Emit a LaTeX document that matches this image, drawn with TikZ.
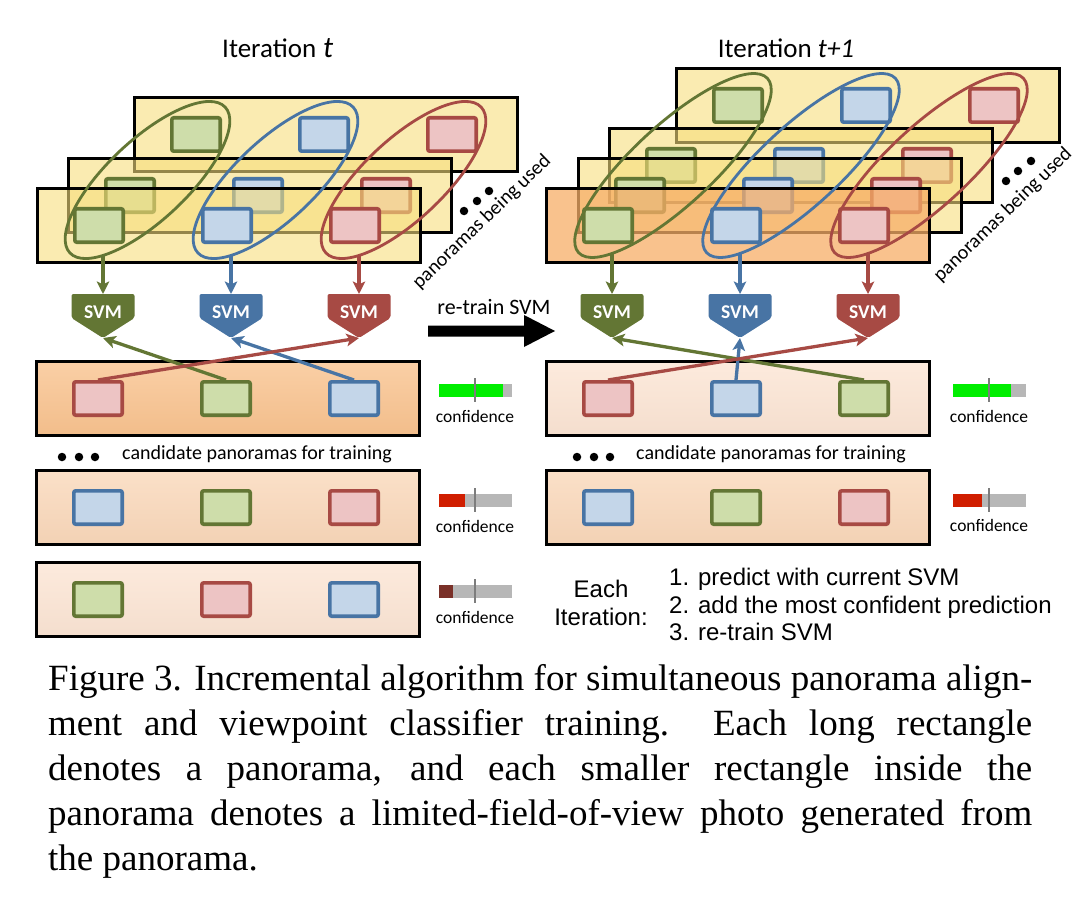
\documentclass[tikz,border=0pt]{standalone}
\usepackage{fontspec}
\setmainfont{Carlito}
\newfontfamily\capfont{Liberation Serif}
\newfontfamily\arialfont{Liberation Sans}
\usetikzlibrary{arrows.meta,shapes.geometric}

\definecolor{gB}{RGB}{99,118,52}
\definecolor{gF}{RGB}{206,221,170}
\definecolor{bB}{RGB}{72,116,164}
\definecolor{bF}{RGB}{196,214,233}
\definecolor{rB}{RGB}{167,74,68}
\definecolor{rF}{RGB}{237,196,196}
\definecolor{panY}{RGB}{248,223,125}
\definecolor{panO}{RGB}{247,174,104}
\definecolor{candA}{RGB}{249,195,143}
\definecolor{candB}{RGB}{250,216,186}
\definecolor{candC}{RGB}{252,229,212}
\definecolor{confG}{RGB}{0,238,0}
\definecolor{confR}{RGB}{208,30,0}
\definecolor{confD}{RGB}{122,48,40}
\definecolor{confBg}{RGB}{183,183,183}
\definecolor{tickC}{RGB}{125,125,125}

\newcommand\pano[7]{%
  \node[#4] (#1) at (#2+1.5,#3+1.5) {};
  \node[photo=#5] (#1a) at (#2+63,#3+38.5) {};
  \node[photo=#6] (#1b) at (#2+191,#3+38.5) {};
  \node[photo=#7] (#1c) at (#2+319,#3+38.5) {};
}
\newcommand\svmnode[3]{%
  \fill[#3B, rounded corners=2pt] (#2-31.5,294) -- (#2+31.5,294) -- (#2+31.5,318) -- (#2,338) -- (#2-31.5,318) -- cycle;
  \node[svmtext] (#1) at (#2,318) {SVM};
  \coordinate (#1top) at (#2,294);
  \coordinate (#1tip) at (#2,338);
}
\newcommand\confbar[4]{%
  \fill[confBg] (#1,#2) rectangle (#1+73,#2+13);
  \fill[#3] (#1,#2) rectangle (#4,#2+13);
  \draw[tickC, line width=1.5pt] (#1+36,#2-6) -- (#1+36,#2+18);
}

\begin{document}
\begin{tikzpicture}[x=1pt,y=-1pt,
  panel/.style={rectangle, draw=black, line width=3.2pt, minimum width=383pt, minimum height=74pt, inner sep=0pt, outer sep=0pt, anchor=north west},
  ypanel/.style={panel, fill=panY, fill opacity=0.6},
  opanel/.style={panel, fill=panO, fill opacity=0.75},
  cand/.style={panel, top color=#1!80!white, bottom color=#1!97!black},
  photo/.style={rectangle, draw=#1B, fill=#1F, line width=3.6pt, minimum width=48.4pt, minimum height=33.4pt, inner sep=0pt, rounded corners=2pt},
  ellbase/.style={ellipse, draw=#1B, line width=2.8pt, inner sep=0pt},
  lell/.style={ellbase=#1, minimum width=213pt, minimum height=80pt, rotate=43.2},
  rell/.style={ellbase=#1, minimum width=257pt, minimum height=80pt, rotate=42.7},
  conn/.style={draw=#1B, line width=3.3pt, -{Stealth[length=12.5pt,width=12.5pt,inset=3pt]}},
  svmtext/.style={text=white, font=\bfseries\fontsize{19.5}{19.5}\selectfont, anchor=base, inner sep=0pt},
  ttl/.style={anchor=base, inner sep=0pt, font=\fontsize{27}{27}\selectfont},
  pbu/.style={rotate=44, inner sep=0pt, font=\fontsize{20}{20}\selectfont},
  retrain/.style={anchor=base, inner sep=0pt, font=\fontsize{22}{22}\selectfont},
  conflbl/.style={anchor=base, inner sep=0pt, font=\fontsize{17.5}{17.5}\selectfont},
  candtxt/.style={anchor=base west, inner sep=0pt, font=\fontsize{20}{20}\selectfont},
  arialtxt/.style={inner sep=0pt, font=\arialfont\fontsize{24}{24}\selectfont},
  capline/.style={anchor=base west, inner sep=0pt, font=\capfont\fontsize{37}{45}\selectfont},
  dotn/.style={circle, fill=black, inner sep=0pt, minimum size=8.5pt}
]
\fill[white] (0,0) rectangle (1089,904);
\useasboundingbox (0,0) rectangle (1089,904);

% titles
\node[ttl, anchor=base west] (tl) at (222,58) {Iteration\hspace{7pt}{\itshape\fontsize{30}{30}\selectfont t}};
\node[ttl] (tr) at (786,58) {Iteration {\itshape t+1}};

% left stack
\pano{Lk}{133}{96}{ypanel}{g}{b}{r}
\pano{Lm}{67}{157}{ypanel}{g}{b}{r}
\pano{Lf}{36}{187}{ypanel}{g}{b}{r}
\node[lell=g] (LeG) at (147.5,180) {};
\node[lell=b] (LeB) at (275.5,180) {};
\node[lell=r] (LeR) at (403.5,180) {};

% right stack
\pano{Rk}{675}{67}{ypanel}{g}{b}{r}
\pano{R3}{608}{127}{ypanel}{g}{b}{r}
\pano{R2}{577}{157}{ypanel}{g}{b}{r}
\pano{Rf}{545}{187}{opanel}{g}{b}{r}
\node[rell=g] (ReG) at (673,165.5) {};
\node[rell=b] (ReB) at (801,165.5) {};
\node[rell=r] (ReR) at (929,165.5) {};

% panoramas being used
\node[pbu] (Lpbu) at (482,222) {panoramas being used};
\node[pbu] (Rpbu) at (1003,215) {panoramas being used};
\node[dotn] (Ld1) at (464,211) {};
\node[dotn] (Ld2) at (477,201) {};
\node[dotn] (Ld3) at (489,191) {};
\node[dotn] (Rd1) at (1006,181) {};
\node[dotn] (Rd2) at (1018,171) {};
\node[dotn] (Rd3) at (1031,161) {};

% SVMs
\svmnode{LsG}{103}{g}
\svmnode{LsB}{231}{b}
\svmnode{LsR}{359}{r}
\svmnode{RsG}{612}{g}
\svmnode{RsB}{740}{b}
\svmnode{RsR}{868}{r}

% ellipse -> SVM
\coordinate (LeGs) at (103,255);
\coordinate (LeBs) at (231,255);
\coordinate (LeRs) at (359,255);
\coordinate (ReGs) at (612,253);
\coordinate (ReBs) at (740,253);
\coordinate (ReRs) at (868,253);
\draw[conn=g] (LeGs) -- (LsGtop);
\draw[conn=b] (LeBs) -- (LsBtop);
\draw[conn=r] (LeRs) -- (LsRtop);
\draw[conn=g] (ReGs) -- (RsGtop);
\draw[conn=b] (ReBs) -- (RsBtop);
\draw[conn=r] (ReRs) -- (RsRtop);

% re-train arrow
\node[retrain] (rt) at (494,314) {re-train SVM};
\fill (428,325.5) -- (524,325.5) -- (524,315) -- (555,331) -- (524,347) -- (524,336.5) -- (428,336.5) -- cycle;

% candidate panoramas
\pano{La}{35}{360}{cand=candA}{r}{g}{b}
\pano{Lb}{35}{469}{cand=candB}{b}{g}{r}
\pano{Lc}{35}{561}{cand=candC}{g}{r}{b}
\pano{Ra}{545}{360}{cand=candC}{r}{b}{g}
\pano{Rb}{545}{469}{cand=candB}{b}{g}{r}

% row arrows
\draw[conn=g] (Lab.north) -- (LsGtip);
\draw[conn=b] (Lac.north) -- (LsBtip);
\draw[conn=r] (Laa.north) -- (LsRtip);
\draw[conn=g] (Rac.north) -- (RsGtip);
\draw[conn=b] (Rab.north) -- (RsBtip);
\draw[conn=r] (Raa.north) -- (RsRtip);

% confidence
\confbar{439}{384}{confG}{503}
\confbar{439}{494}{confR}{465}
\confbar{439}{585}{confD}{453}
\confbar{953}{384}{confG}{1011}
\confbar{953}{494}{confR}{982}
\node[conflbl] (cL1) at (475,422) {confidence};
\node[conflbl] (cL2) at (475,532) {confidence};
\node[conflbl] (cL3) at (475,623) {confidence};
\node[conflbl] (cR1) at (989,422) {confidence};
\node[conflbl] (cR2) at (989,531) {confidence};

% candidate text
\node[dotn] (Lc1) at (62,457) {};
\node[dotn] (Lc2) at (79,457) {};
\node[dotn] (Lc3) at (95,457) {};
\node[dotn] (Rc1) at (577,457) {};
\node[dotn] (Rc2) at (594,457) {};
\node[dotn] (Rc3) at (610,457) {};
\node[candtxt] (Lct) at (122,459) {candidate panoramas for training};
\node[candtxt] (Rct) at (636,459) {candidate panoramas for training};

% each iteration
\node[arialtxt, anchor=base] (ei1) at (601,597) {Each};
\node[arialtxt, anchor=base] (ei2) at (601,625) {Iteration:};
\node[arialtxt, anchor=base west] (s1) at (669,585) {1. predict with current SVM};
\node[arialtxt, anchor=base west] (s2) at (669,613) {2. add the most confident prediction};
\node[arialtxt, anchor=base west] (s3) at (669,640) {3. re-train SVM};

% caption
\node[capline] (cap1) at (48,690) {\makebox[984pt][s]{Figure 3. Incremental algorithm for simultaneous panorama align-}};
\node[capline] (cap2) at (48,735) {\makebox[984pt][s]{ment and viewpoint classifier training.\ \ Each long rectangle}};
\node[capline] (cap3) at (48,780) {\makebox[984pt][s]{denotes a panorama, and each smaller rectangle inside the}};
\node[capline] (cap4) at (48,825) {\makebox[984pt][s]{panorama denotes a limited-field-of-view photo generated from}};
\node[capline] (cap5) at (48,870) {the panorama.};
\end{tikzpicture}
\end{document}
